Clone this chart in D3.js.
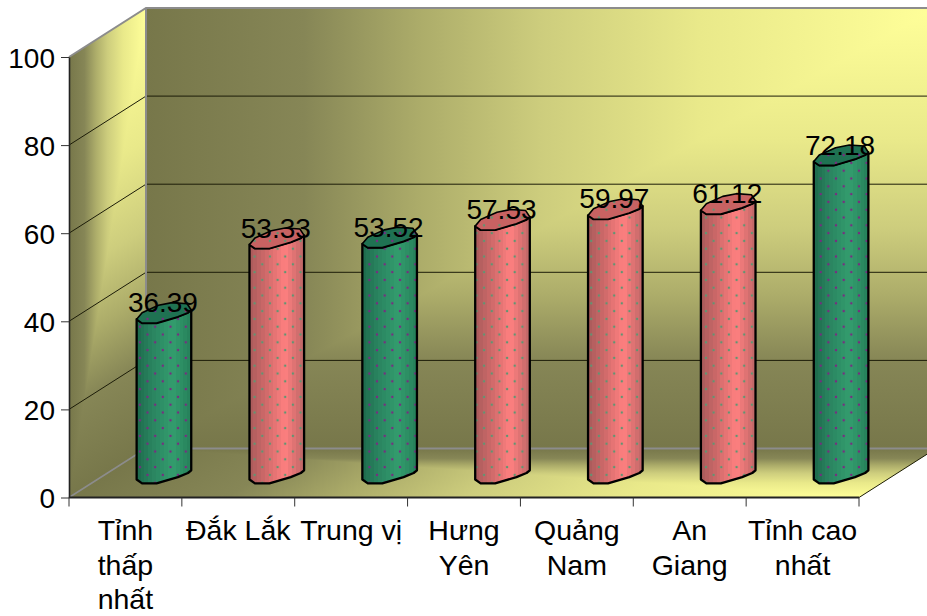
<!DOCTYPE html>
<html>
<head>
<meta charset="utf-8">
<script src="https://cdn.jsdelivr.net/npm/d3@7"></script>
<style>
  html, body { margin: 0; padding: 0; background: #fff; overflow: hidden; }
  svg { display: block; }
  text { font-family: "Liberation Sans", Arial, sans-serif; fill: #000; }
</style>
</head>
<body>
<svg id="chart" width="927" height="616"></svg>
<script>
// Chart data
const categories = ["Tỉnh thấp nhất", "Đắk Lắk", "Trung vị", "Hưng Yên", "Quảng Nam", "An Giang", "Tỉnh cao nhất"];
const categoryLines = [["Tỉnh", "thấp", "nhất"], ["Đắk Lắk"], ["Trung vị"], ["Hưng", "Yên"], ["Quảng", "Nam"], ["An", "Giang"], ["Tỉnh cao", "nhất"]];
const values = [36.39, 53.33, 53.52, 57.53, 59.97, 61.12, 72.18];
const valueLabels = ["36.39", "53.33", "53.52", "57.53", "59.97", "61.12", "72.18"];
const barKinds = ["reference", "province", "reference", "province", "province", "province", "reference"];
const yTicks = [0, 20, 40, 60, 80, 100];

// Plot box and oblique depth offset
const front = { left: 69, right: 859, bottom: 497.5, top: 57 };
const depth = { x: 77, y: -49 };
const barWidth = 54.6;

const svg = d3.select("#chart");
const defs = svg.append("defs");

const x = d3.scaleBand().domain(categories).range([front.left, front.right]);
const y = d3.scaleLinear().domain([0, 100]).range([front.bottom, front.top]);

// Panel shading: brightness rises toward one corner of the panel, so the
// tone at any spot is the lesser of the two axis fractions.
const panelStops = [[0, "#77774a"], [0.2, "#868656"], [0.35, "#adad6a"], [0.5, "#cdcd7d"], [0.7, "#e9e98a"], [1, "#ffff99"]];
function unitGradient(id, x2, y2) {
  const g = defs.append("linearGradient").attr("id", id)
    .attr("gradientUnits", "userSpaceOnUse")
    .attr("x1", 0).attr("y1", 0).attr("x2", x2).attr("y2", y2);
  panelStops.forEach(s => g.append("stop").attr("offset", s[0]).attr("stop-color", s[1]));
}
unitGradient("panel-u", 1, 0);
unitGradient("panel-v", 0, 1);

function panel(origin, u, v) {
  const g = svg.append("g")
    .attr("transform", `matrix(${u[0]},${u[1]},${v[0]},${v[1]},${origin[0]},${origin[1]})`);
  g.append("path").attr("d", "M0,0H1V1H0Z").attr("fill", "url(#panel-u)");
  g.append("path").attr("d", "M0,0L1,0L1,1Z").attr("fill", "url(#panel-v)");
}

// Back wall, side wall and floor; v runs from the dark edge to the bright edge
const wallHeight = front.bottom - front.top;
const floorWidth = front.right - front.left;
panel([front.left + depth.x, front.bottom + depth.y], [floorWidth, 0], [0, -wallHeight]);
panel([front.left, front.bottom], [depth.x, depth.y], [0, -wallHeight]);
panel([front.left + depth.x, front.bottom + depth.y], [floorWidth, 0], [-depth.x, -depth.y]);

// Gridlines across the back wall and side wall
const grid = svg.append("g").attr("fill", "none").attr("stroke", "#1c1c08").attr("stroke-width", 1);
yTicks.filter(t => t > 0 && t < 100).forEach(t => {
  grid.append("path").attr("d", d3.line()([
    [front.left, y(t)],
    [front.left + depth.x, y(t) + depth.y],
    [front.right + depth.x, y(t) + depth.y]
  ]));
});

// Frame edges
const frameGrey = svg.append("g").attr("fill", "none").attr("stroke", "#8c8c8c").attr("stroke-width", 2);
frameGrey.append("path").attr("d", d3.line()([
  [front.left, front.top],
  [front.left + depth.x, front.top + depth.y],
  [front.right + depth.x, front.top + depth.y]
]));
frameGrey.append("path").attr("d", d3.line()([
  [front.left + depth.x, front.top + depth.y],
  [front.left + depth.x, front.bottom + depth.y],
  [front.right + depth.x, front.bottom + depth.y]
]));
frameGrey.append("path").attr("stroke-width", 1.5).attr("d", d3.line()([
  [front.left, front.bottom],
  [front.left + depth.x, front.bottom + depth.y]
]));
svg.append("path").attr("fill", "none").attr("stroke", "#1c1c08").attr("stroke-width", 1)
  .attr("d", d3.line()([[front.right, front.bottom], [front.right + depth.x, front.bottom + depth.y]]));

// Axes
const numberFont = 28;
const categoryFont = 28.5;
const yAxis = svg.append("g").attr("transform", `translate(${front.left},0)`)
  .call(d3.axisLeft(y).tickValues(yTicks).tickSize(8).tickSizeOuter(0).tickPadding(6));
yAxis.select(".domain").attr("stroke", "#222").attr("stroke-width", 1.6);
yAxis.selectAll(".tick line").attr("stroke", "#333");
yAxis.selectAll(".tick text").attr("font-size", numberFont).attr("font-family", null)
  .attr("dy", "0.36em");

const xAxis = svg.append("g").attr("transform", `translate(0,${front.bottom})`);
xAxis.append("path").attr("d", `M${front.left},0H${front.right}`).attr("stroke", "#222").attr("stroke-width", 1.8);
xAxis.selectAll("line.tick").data(d3.range(categories.length + 1)).join("line")
  .attr("class", "tick")
  .attr("x1", i => front.left + i * x.bandwidth()).attr("x2", i => front.left + i * x.bandwidth())
  .attr("y1", 0).attr("y2", 9).attr("stroke", "#333");
xAxis.selectAll("text.cat").data(categories).join("text")
  .attr("class", "cat")
  .attr("text-anchor", "middle")
  .attr("font-size", categoryFont)
  .each(function (d, i) {
    d3.select(this).selectAll("tspan").data(categoryLines[i]).join("tspan")
      .attr("x", x(d) + x.bandwidth() / 2)
      .attr("y", (l, k) => 42.5 + k * 34.7)
      .text(l => l);
  });

// Cylinder looks: banded sheen across the side, flat darker cap, dotted texture
const looks = {
  reference: { sheen: ["#1d6a4b", "#2a8560", "#339d6e", "#26805a"], cap: "#1f7252", dot: "#7a2a82" },
  province: { sheen: ["#a85a5a", "#cf6a6a", "#ff8080", "#bd6666"], cap: "#c86262", dot: "#5e9672" }
};
const sheenSteps = [0, 0.3, 0.65, 1];
Object.entries(looks).forEach(([kind, look]) => {
  const colour = d3.scaleLinear().domain(sheenSteps).range(look.sheen).interpolate(d3.interpolateRgb);
  const bands = 14;
  const g = defs.append("linearGradient").attr("id", `sheen-${kind}`);
  d3.range(bands).forEach(b => {
    const c = colour((b + 0.5) / bands);
    g.append("stop").attr("offset", b / bands).attr("stop-color", c);
    g.append("stop").attr("offset", (b + 1) / bands).attr("stop-color", c);
  });
  const p = defs.append("pattern").attr("id", `dots-${kind}`)
    .attr("patternUnits", "userSpaceOnUse").attr("width", 15.3).attr("height", 15.6)
    .attr("x", 6).attr("y", 3);
  p.append("circle").attr("cx", 3.8).attr("cy", 3.9).attr("r", 1.25).attr("fill", look.dot);
  p.append("circle").attr("cx", 11.5).attr("cy", 11.7).attr("r", 1.25).attr("fill", look.dot);
});

// Outline of a cylinder's cross-section on the skewed floor, relative to its centre,
// as fractions of half a bar width
const half = barWidth / 2;
const frontArc = [[-1, 0.24], [-0.8, 0.38], [-0.27, 0.38], [0.51, 0.15], [0.88, 0], [1, -0.1]];
const backArc = [[0.85, -0.33], [0.3, -0.37], [-0.2, -0.27], [-0.8, 0]];
const toPoint = (cx, cy) => p => [cx + p[0] * half, cy + p[1] * half];
const outline = d3.line();

const bars = svg.append("g").selectAll("g").data(categories).join("g");
bars.each(function (d, i) {
  const cx = x(d) + x.bandwidth() / 2 + depth.x / 2;
  const baseY = y(0) + depth.y / 2;
  const topY = y(values[i]) + depth.y / 2;
  const kind = barKinds[i];
  const g = d3.select(this);

  const base = frontArc.map(toPoint(cx, baseY));
  const capFront = frontArc.map(toPoint(cx, topY));
  const cap = capFront.concat(backArc.map(toPoint(cx, topY)));
  const sideD = outline(capFront.concat(base.slice().reverse())) + "Z";
  const capD = outline(cap) + "Z";

  g.append("path").attr("d", sideD).attr("fill", `url(#sheen-${kind})`);
  g.append("path").attr("d", sideD).attr("fill", `url(#dots-${kind})`)
    .attr("stroke", "#000").attr("stroke-width", 2.3).attr("stroke-linejoin", "round");
  g.append("path").attr("d", capD).attr("fill", looks[kind].cap);
  g.append("path").attr("d", capD).attr("fill", `url(#dots-${kind})`)
    .attr("stroke", "#000").attr("stroke-width", 1.6).attr("stroke-linejoin", "round");
});

// Value labels sit on the cylinder caps
svg.append("g").selectAll("text").data(categories).join("text")
  .attr("x", d => x(d) + x.bandwidth() / 2 + depth.x / 2 - 1)
  .attr("y", (d, i) => y(values[i]) + depth.y / 2 - 0.5)
  .attr("text-anchor", "middle")
  .attr("font-size", numberFont)
  .text((d, i) => valueLabels[i]);
</script>
</body>
</html>
